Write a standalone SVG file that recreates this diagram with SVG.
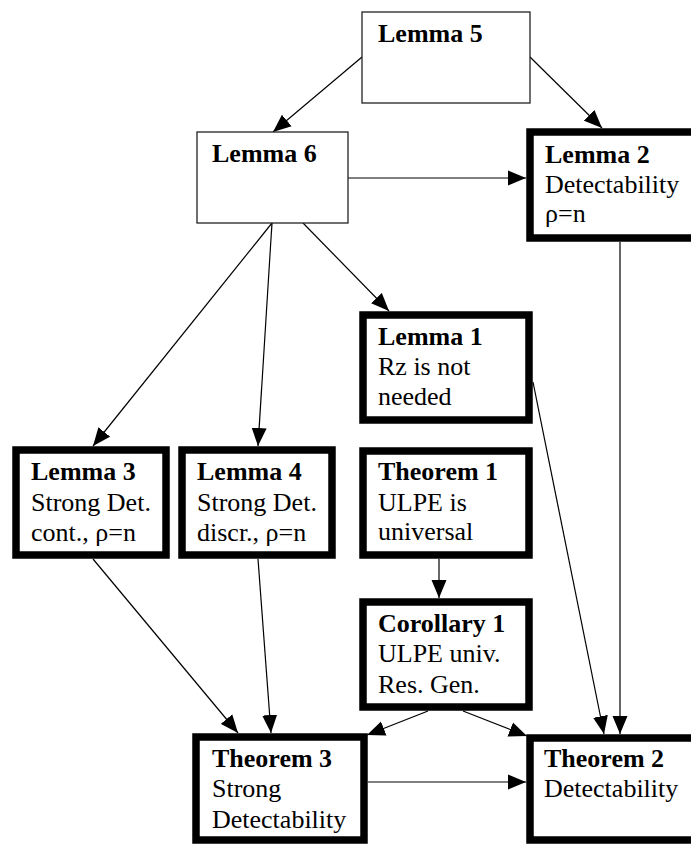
<svg xmlns="http://www.w3.org/2000/svg" width="691" height="844" viewBox="0 0 691 844">
<style>
text{font-family:"Liberation Serif",serif;font-size:26px;font-weight:400;fill:#000}
.b{font-weight:700}
.thin{fill:#fff;stroke:#222;stroke-width:1.3}
.thick{fill:#fff;stroke:#000;stroke-width:7.5}
.c line{stroke:#000;stroke-width:1.2;marker-end:url(#ah)}
</style>
<defs>
<marker id="ah" markerUnits="userSpaceOnUse" markerWidth="18" markerHeight="16" refX="18" refY="8" orient="auto">
<path d="M0,0.5 L18,8 L0,15.5 Z" fill="#000"/>
</marker>
</defs>
<rect width="691" height="844" fill="#fff"/>
<g id="connectors" class="c">
<line x1="362" y1="57" x2="273" y2="132"/>
<line x1="530" y1="57" x2="602" y2="128"/>
<line x1="348" y1="178" x2="526" y2="178"/>
<line x1="272" y1="223" x2="93" y2="446"/>
<line x1="272" y1="223" x2="258" y2="446"/>
<line x1="303" y1="223" x2="389" y2="311"/>
<line x1="533" y1="382" x2="604" y2="734"/>
<line x1="620" y1="242" x2="620" y2="734"/>
<line x1="93" y1="559" x2="238" y2="733"/>
<line x1="258" y1="559" x2="271" y2="733"/>
<line x1="439" y1="559" x2="439" y2="598"/>
<line x1="428" y1="711" x2="367" y2="735"/>
<line x1="463" y1="711" x2="527" y2="736"/>
<line x1="368" y1="782" x2="526" y2="782"/>
</g>
<g id="lemma5">
<rect class="thin" x="362" y="12" width="168" height="91"/>
<text class="b" x="378" y="42">Lemma 5</text>
</g>
<g id="lemma6">
<rect class="thin" x="197" y="132" width="151" height="91"/>
<text class="b" x="212" y="162">Lemma 6</text>
</g>
<g id="lemma2">
<rect class="thick" x="530" y="132" width="170" height="106"/>
<text class="b" x="545" y="163">Lemma 2</text>
<text x="545" y="193">Detectability</text>
<text x="545" y="222">ρ=n</text>
</g>
<g id="lemma1">
<rect class="thick" x="363" y="315" width="166" height="105"/>
<text class="b" x="378" y="345">Lemma 1</text>
<text x="378" y="375">Rz is not</text>
<text x="378" y="405">needed</text>
</g>
<g id="lemma3">
<rect class="thick" x="16" y="450" width="150" height="105"/>
<text class="b" x="31" y="480">Lemma 3</text>
<text x="31" y="511">Strong Det.</text>
<text x="31" y="541">cont., ρ=n</text>
</g>
<g id="lemma4">
<rect class="thick" x="182" y="450" width="150" height="105"/>
<text class="b" x="197" y="480">Lemma 4</text>
<text x="197" y="511">Strong Det.</text>
<text x="197" y="541">discr., ρ=n</text>
</g>
<g id="theorem1">
<rect class="thick" x="363" y="451" width="166" height="104"/>
<text class="b" x="378" y="480">Theorem 1</text>
<text x="378" y="511">ULPE is</text>
<text x="378" y="540">universal</text>
</g>
<g id="corollary1">
<rect class="thick" x="363" y="602" width="166" height="105"/>
<text class="b" x="378" y="632">Corollary 1</text>
<text x="378" y="662">ULPE univ.</text>
<text x="378" y="693">Res. Gen.</text>
</g>
<g id="theorem3">
<rect class="thick" x="196" y="737" width="168" height="103"/>
<text class="b" x="212" y="767">Theorem 3</text>
<text x="212" y="797">Strong</text>
<text x="212" y="828">Detectability</text>
</g>
<g id="theorem2">
<rect class="thick" x="530" y="738" width="170" height="102"/>
<text class="b" x="544" y="767">Theorem 2</text>
<text x="544" y="797">Detectability</text>
</g>
</svg>
